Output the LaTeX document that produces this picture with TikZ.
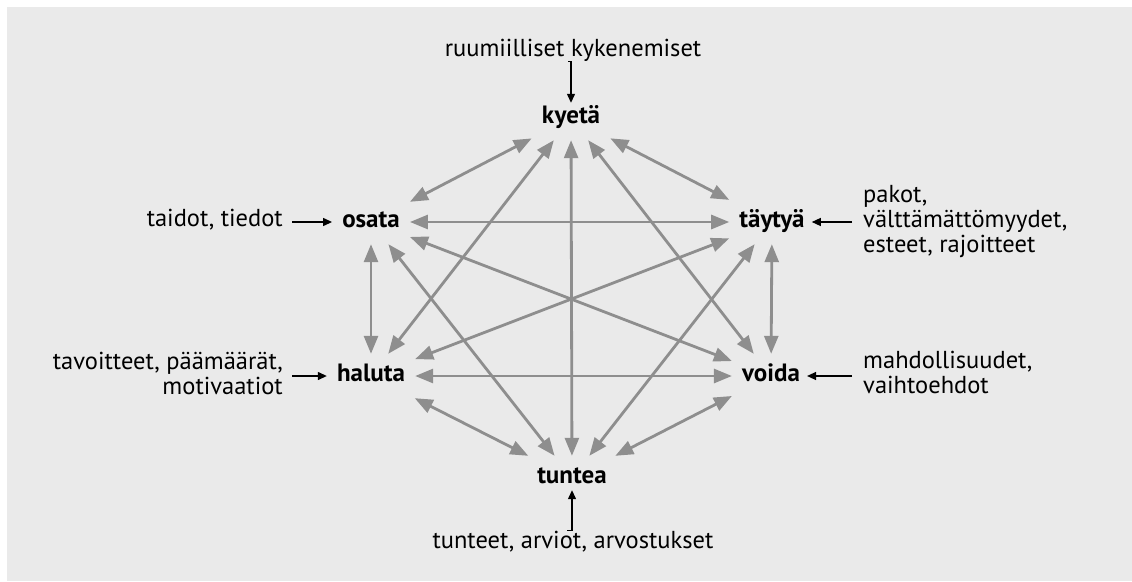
\documentclass[tikz,border=0pt]{standalone}
\usepackage{fontspec}
\setmainfont{PT Sans}
\usetikzlibrary{arrows.meta}
\definecolor{bg}{RGB}{234,234,234}
\definecolor{arr}{RGB}{142,142,142}
\begin{document}
\begin{tikzpicture}[x=1pt,y=-1pt,
  concept/.style={font=\fontsize{25}{28}\selectfont\bfseries, inner xsep=10pt, inner ysep=12pt, text height=15pt, text depth=5pt, anchor=base},
  lbl/.style={font=\fontsize{24.5}{25}\selectfont, inner sep=0pt, anchor=base},
  link/.style={draw=arr, line width=2.8pt, {Triangle[length=18pt,width=14pt]}-{Triangle[length=18pt,width=14pt]}},
  feed/.style={draw=black, line width=1.3pt, -{Triangle[length=9pt,width=8pt]}}
]
\useasboundingbox (0,0) rectangle (1132,581);
\fill[bg] (7,7) rectangle (1132,581);

\node[concept] (kyeta) at (571,123) {kyetä};
\node[concept] (osata) at (371,227) {osata};
\node[concept] (taytya) at (772,227) {täytyä};
\node[concept] (haluta) at (371,381) {haluta};
\node[concept] (voida) at (771,381) {voida};
\node[concept] (tuntea) at (572,483) {tuntea};

\node[lbl] (ruum) at (573,56) {ruumiilliset kykenemiset};
\node[lbl, anchor=base east] (taid) at (283,226) {taidot, tiedot};
\node[lbl, align=right, anchor=base east] (tavo) at (283,394) {tavoitteet, päämäärät,\\motivaatiot};
\node[lbl, align=left, anchor=base west] (pako) at (863,252) {pakot,\\välttämättömyydet,\\esteet, rajoitteet};
\node[lbl, align=left, anchor=base west] (mahd) at (863,393) {mahdollisuudet,\\vaihtoehdot};
\node[lbl] (tunt) at (573,548) {tunteet, arviot, arvostukset};

\draw[feed, shorten <=5pt, shorten >=-7pt] (ruum.south) -- (ruum.south -| kyeta.north) -- (kyeta.north);
\draw[feed, shorten <=9pt] (taid.east |- osata.west) -- (osata.west);
\draw[feed, shorten <=11pt, shorten >=-3pt] (pako.west |- taytya.east) -- (taytya.east);
\draw[feed, shorten <=9pt] (tavo.east |- haluta.west) -- (haluta.west);
\draw[feed, shorten <=11pt, shorten >=-3pt] (mahd.west |- voida.east) -- (voida.east);
\draw[feed, shorten <=6pt, shorten >=-10pt] (tunt.north) -- (tunt.north -| tuntea.south) -- (tuntea.south);

\draw[link] (kyeta) -- (osata);
\draw[link] (kyeta) -- (taytya);
\draw[link] (kyeta) -- (haluta);
\draw[link] (kyeta) -- (voida);
\draw[link] (kyeta) -- (tuntea);
\draw[link] (osata) -- (taytya);
\draw[link] (osata) -- (haluta);
\draw[link] (osata) -- (voida);
\draw[link] (osata) -- (tuntea);
\draw[link] (taytya) -- (haluta);
\draw[link] (taytya) -- (voida);
\draw[link] (taytya) -- (tuntea);
\draw[link] (haluta) -- (voida);
\draw[link] (haluta) -- (tuntea);
\draw[link] (voida) -- (tuntea);
\end{tikzpicture}
\end{document}
